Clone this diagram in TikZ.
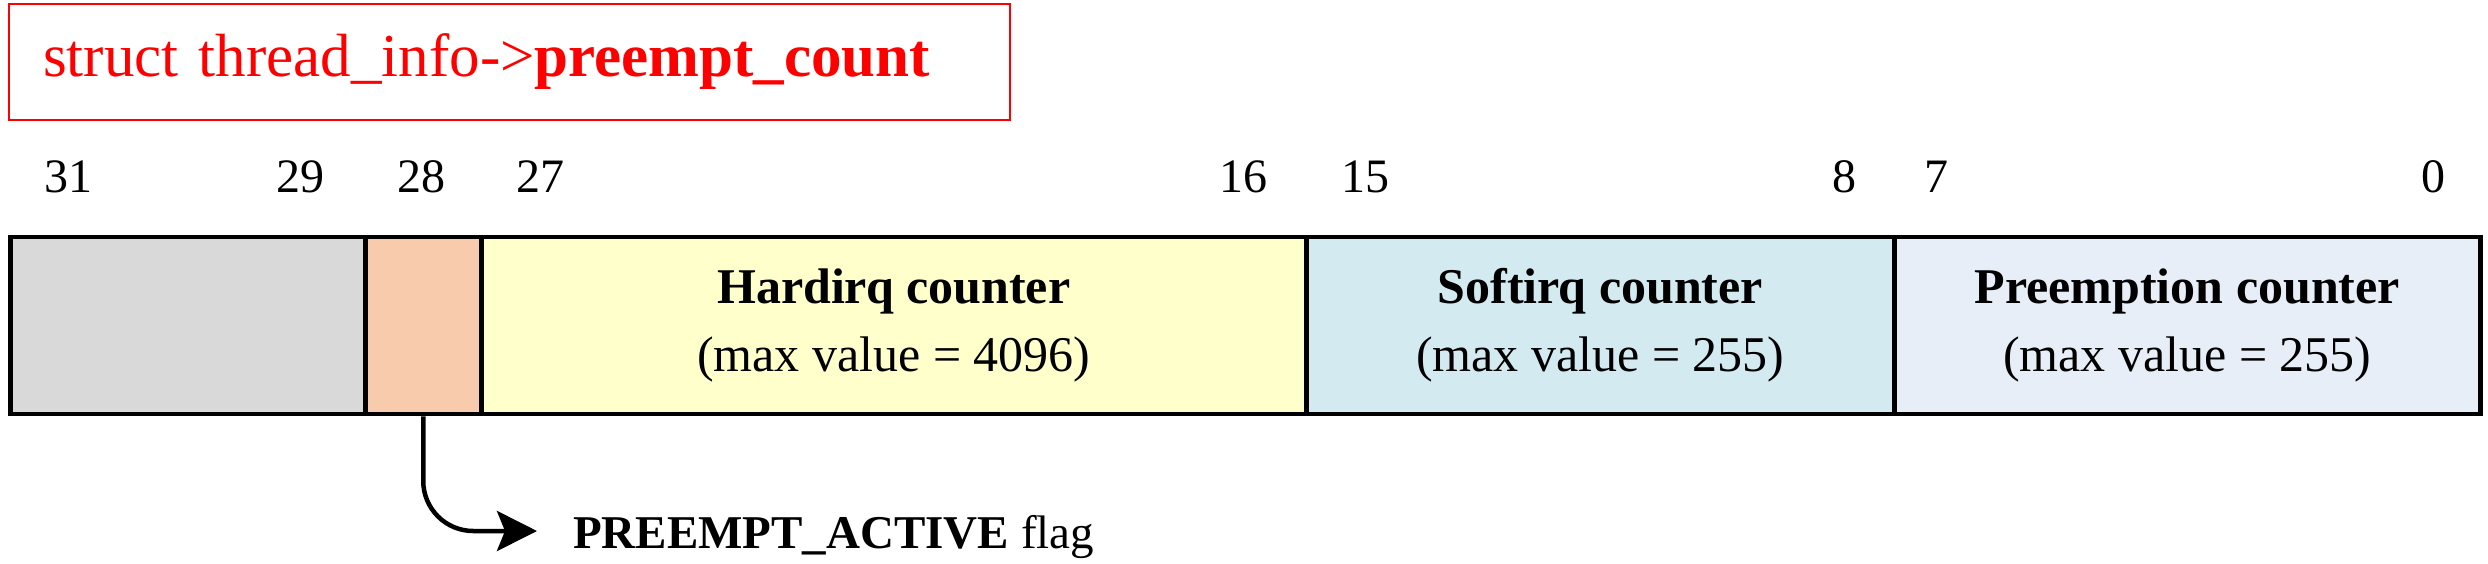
\documentclass[tikz,border=0pt]{standalone}
\usepackage{fontspec}
\setmainfont{Liberation Serif}
\usetikzlibrary{arrows.meta}
\definecolor{cgray}{HTML}{D9D9D9}
\definecolor{corange}{HTML}{F8CBAD}
\definecolor{cyellow}{HTML}{FFFFCC}
\definecolor{cblue}{HTML}{D2EAF0}
\definecolor{cpre}{HTML}{E7EEF8}
\definecolor{cred}{HTML}{FF0000}
\tikzset{
  cell/.style={draw=black, line width=4.5pt, minimum height=177pt, inner sep=0pt, anchor=west, align=center,
    font=\fontsize{50}{68}\selectfont},
  bitnum/.style={inner sep=0pt, font=\fontsize{48}{56}\selectfont},
  flagtext/.style={inner sep=0pt, font=\fontsize{47}{56}\selectfont},
  titlebox/.style={draw=cred, line width=2pt, minimum height=116pt, text width=933pt, inner xsep=34pt,
    align=left, anchor=north west, text=cred, font=\fontsize{61}{68}\selectfont},
  flagarrow/.style={line width=4.5pt, rounded corners=50pt, -{Stealth[length=40pt,width=40pt,inset=8pt]}},
}
\begin{document}
\begin{tikzpicture}[x=1pt,y=-1pt]
\useasboundingbox (0,0) rectangle (2488,563);
\node[titlebox] (title) at (8,3) {struct thread\_info->\textbf{preempt\_count}};
\node[cell, fill=cgray, minimum width=355pt] (gray) at (8,325.5) {};
\node[cell, fill=corange, minimum width=116pt] (orange) at (363,325.5) {};
\node[cell, fill=cyellow, minimum width=825pt] (hard) at (479,325.5) {\textbf{Hardirq counter}\\(max value = 4096)};
\node[cell, fill=cblue, minimum width=588pt] (soft) at (1304,325.5) {\textbf{Softirq counter}\\(max value = 255)};
\node[cell, fill=cpre, minimum width=586pt] (pre) at (1892,325.5) {\textbf{Preemption counter}\\(max value = 255)};
\node[bitnum] (b31) at (68,177) {31};
\node[bitnum] (b29) at (300,177) {29};
\node[bitnum] (b28) at (421,177) {28};
\node[bitnum] (b27) at (540,177) {27};
\node[bitnum] (b16) at (1243,177) {16};
\node[bitnum] (b15) at (1365,177) {15};
\node[bitnum] (b8) at (1844,177) {8};
\node[bitnum] (b7) at (1936,177) {7};
\node[bitnum] (b0) at (2433,177) {0};
\node[flagtext, anchor=base west] (flag) at (573,548) {\textbf{PREEMPT\_ACTIVE} flag};
\draw[flagarrow] (orange.south) |- ([shift={(-36pt,17pt)}]flag.base west);
\end{tikzpicture}
\end{document}
